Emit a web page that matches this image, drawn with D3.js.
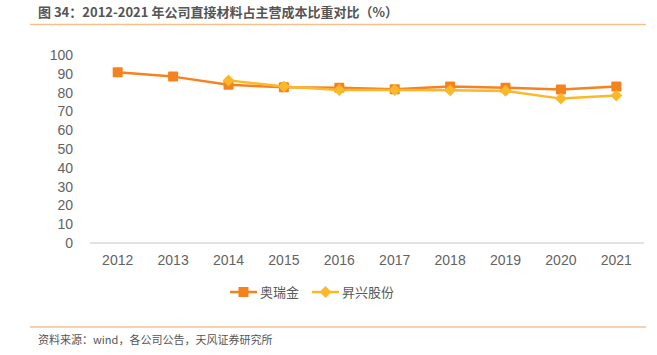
<!DOCTYPE html>
<html><head><meta charset="utf-8">
<script src="https://cdn.jsdelivr.net/npm/d3@7"></script>
<style>
html,body{margin:0;padding:0;background:#fff;}
svg{display:block;font-family:"Noto Sans CJK SC","Liberation Sans",sans-serif;}
</style></head>
<body>
<svg id="c" width="657" height="355"></svg>
<script>
const years = ["2012","2013","2014","2015","2016","2017","2018","2019","2020","2021"];
const aoruijin = [90.8, 88.5, 84.2, 82.8, 82.6, 81.8, 83.3, 82.6, 81.7, 83.2];
const shengxing = [null, null, 86.5, 83.2, 81.4, 81.4, 81.2, 80.9, 76.8, 78.4];
const yTicks = [0,10,20,30,40,50,60,70,80,90,100];
const seriesNames = ["奥瑞金", "昇兴股份"];
const colors = ["#F5821F", "#FBB829"];

const svg = d3.select("#c");
const x = d3.scaleBand().domain(years).range([90, 644]);
const y = d3.scaleLinear().domain([0, 100]).range([243, 55]);

// title
svg.append("text").attr("x", 38).attr("y", 17).attr("font-size", 13).attr("font-weight", "bold")
  .attr("fill", "#555").text("图 34：2012-2021 年公司直接材料占主营成本比重对比（%）");
svg.append("line").attr("x1", 30).attr("x2", 646).attr("y1", 24.5).attr("y2", 24.5)
  .attr("stroke", "#F9C089").attr("stroke-width", 1.5);

// y axis labels
svg.append("g").selectAll("text").data(yTicks).join("text")
  .attr("x", 73).attr("y", d => y(d)).attr("dy", "0.35em").attr("text-anchor", "end")
  .attr("font-size", 14).attr("fill", "#636363").attr("font-family", "Liberation Sans, Arial, sans-serif")
  .text(d => d);

// baseline
svg.append("line").attr("x1", 90).attr("x2", 644).attr("y1", y(0)).attr("y2", y(0))
  .attr("stroke", "#D9D9D9").attr("stroke-width", 1.5);

// x labels
const xAxis = d3.axisBottom(x).tickSize(0).tickPadding(12);
const gx = svg.append("g").attr("transform", `translate(0,${y(0)})`).call(xAxis);
gx.select(".domain").remove();
gx.selectAll("text").attr("font-size", 14).attr("fill", "#636363")
  .attr("font-family", "Liberation Sans, Arial, sans-serif");

const cx = d => x(d) + x.bandwidth() / 2;
const data = [aoruijin, shengxing];

data.forEach((vals, i) => {
  const pts = years.map((yr, j) => ({yr, v: vals[j]})).filter(p => p.v != null);
  const line = d3.line().x(p => cx(p.yr)).y(p => y(p.v));
  svg.append("path").datum(pts).attr("d", line).attr("fill", "none")
    .attr("stroke", colors[i]).attr("stroke-width", 2.5).attr("stroke-linejoin", "round");
});

// markers: orange squares then yellow diamonds
svg.append("g").selectAll("rect").data(years.map((yr, j) => ({yr, v: aoruijin[j]})))
  .join("rect").attr("x", d => cx(d.yr) - 5).attr("y", d => y(d.v) - 5)
  .attr("width", 10).attr("height", 10).attr("rx", 1).attr("fill", colors[0]);
const diamond = d3.symbol().type(d3.symbolDiamond2).size(90);
svg.append("g").selectAll("path").data(years.map((yr, j) => ({yr, v: shengxing[j]})).filter(d => d.v != null))
  .join("path").attr("d", diamond).attr("transform", d => `translate(${cx(d.yr)},${y(d.v)})`)
  .attr("fill", colors[1]);

// legend
const leg = [{x: 230, name: seriesNames[0], c: colors[0], sq: true},
             {x: 312, name: seriesNames[1], c: colors[1], sq: false}];
const ly = 292;
leg.forEach(l => {
  svg.append("line").attr("x1", l.x).attr("x2", l.x + 27).attr("y1", ly).attr("y2", ly)
    .attr("stroke", l.c).attr("stroke-width", 2.5);
  if (l.sq) {
    svg.append("rect").attr("x", l.x + 13.5 - 5).attr("y", ly - 5).attr("width", 10).attr("height", 10)
      .attr("fill", l.c);
  } else {
    svg.append("path").attr("d", diamond).attr("transform", `translate(${l.x + 13.5},${ly})`)
      .attr("fill", l.c);
  }
  svg.append("text").attr("x", l.x + 30).attr("y", ly).attr("dy", "0.36em")
    .attr("font-size", 13).attr("fill", "#595959").text(l.name);
});

// footer
svg.append("line").attr("x1", 30).attr("x2", 646).attr("y1", 327).attr("y2", 327)
  .attr("stroke", "#F4A261").attr("stroke-width", 1.2);
svg.append("text").attr("x", 38).attr("y", 344).attr("font-size", 11).attr("fill", "#555")
  .text("资料来源：wind，各公司公告，天风证券研究所");
</script>
</body></html>
